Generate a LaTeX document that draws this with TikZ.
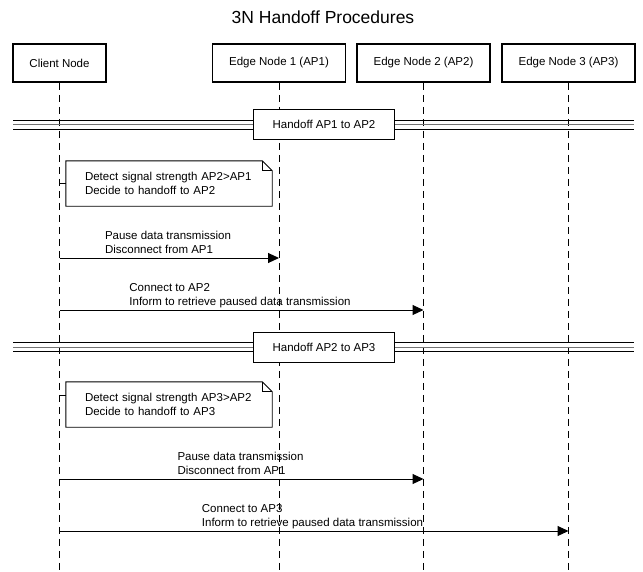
\documentclass[tikz,border=0pt]{standalone}
\usepackage{fontspec}
\setmainfont{Liberation Sans}
\usetikzlibrary{arrows.meta}
\begin{document}
\begin{tikzpicture}[x=1pt,y=-1pt,
  lbl/.style={font=\fontsize{11.5}{13.5}\selectfont},
  actor/.style={draw, line width=1.6pt, minimum height=38pt, inner xsep=16.5pt, lbl},
  life/.style={line width=0.9pt, dash pattern=on 7pt off 5pt},
  msg/.style={line width=1pt, -{Triangle[length=11pt,width=10pt]}},
  msgtext/.style={lbl, align=left, anchor=south, inner sep=0pt, text depth=0pt},
  divline/.style={line width=1pt},
  divmid/.style={line width=1pt, black!55},
  divbox/.style={draw, fill=white, line width=0.9pt, minimum height=30pt, inner xsep=19.5pt, lbl},
  notetext/.style={lbl, minimum width=206pt, minimum height=45pt, text width=168pt,
                   inner xsep=19pt, inner ysep=0pt, align=left},
  noteframe/.style={line width=0.9pt},
]
\useasboundingbox (0,0) rectangle (643,571);

% title
\node[font=\fontsize{17.5}{20}\selectfont] (title) at (323,17) {3N Handoff Procedures};

% participants
\node[actor] (cl)  at (59.5,63)  {Client Node};
\node[actor] (ap1) at (279,63)   {Edge Node 1 (AP1)};
\node[actor] (ap2) at (423.5,63) {Edge Node 2 (AP2)};
\node[actor] (ap3) at (568.5,63) {Edge Node 3 (AP3)};

% lifelines
\coordinate (bottom) at (0,571);
\foreach \p in {cl,ap1,ap2,ap3}
  \draw[life] (\p.south) -- (\p.south |- bottom);

% divider 1
\coordinate (dl1) at (13,124.5);
\coordinate (dr1) at (634,124.5);
\draw[divline] ([yshift=4.5pt]dl1) -- ([yshift=4.5pt]dr1);
\draw[divmid]  (dl1) -- (dr1);
\draw[divline] ([yshift=-4.5pt]dl1) -- ([yshift=-4.5pt]dr1);
\node[divbox] (dv1) at (324,124.5) {Handoff AP1 to AP2};

% note 1
\node[notetext] (n1) at (169,183.5) {Detect signal strength AP2>AP1\\Decide to handoff to AP2};
\draw[noteframe] (n1.north west) -- ([xshift=-10pt]n1.north east) -- ([yshift=-10pt]n1.north east)
  -- (n1.south east) -- (n1.south west) -- cycle;
\draw[noteframe] ([xshift=-10pt]n1.north east) -- ([xshift=-10pt,yshift=-10pt]n1.north east)
  -- ([yshift=-10pt]n1.north east);
\coordinate (t1) at (0,183);
\draw[noteframe] (cl.south |- t1) -- (n1.west |- t1);

% messages, first handoff
\coordinate (m1) at (0,258);
\draw[msg] (cl.south |- m1) -- (ap1.south |- m1);
\node[msgtext] (l1) at (168,253.5) {Pause data transmission\\Disconnect from AP1};

\coordinate (m2) at (0,310);
\draw[msg] (cl.south |- m2) -- (ap2.south |- m2);
\node[msgtext] (l2) at (240,305.5) {Connect to AP2\\Inform to retrieve paused data transmission};

% divider 2
\coordinate (dl2) at (13,347);
\coordinate (dr2) at (634,347);
\draw[divline] ([yshift=4.5pt]dl2) -- ([yshift=4.5pt]dr2);
\draw[divmid]  (dl2) -- (dr2);
\draw[divline] ([yshift=-4.5pt]dl2) -- ([yshift=-4.5pt]dr2);
\node[divbox] (dv2) at (324,347) {Handoff AP2 to AP3};

% note 2
\node[notetext] (n2) at (169,404.5) {Detect signal strength AP3>AP2\\Decide to handoff to AP3};
\draw[noteframe] (n2.north west) -- ([xshift=-10pt]n2.north east) -- ([yshift=-10pt]n2.north east)
  -- (n2.south east) -- (n2.south west) -- cycle;
\draw[noteframe] ([xshift=-10pt]n2.north east) -- ([xshift=-10pt,yshift=-10pt]n2.north east)
  -- ([yshift=-10pt]n2.north east);
\coordinate (t2) at (0,395);
\draw[noteframe] (cl.south |- t2) -- (n2.west |- t2);

% messages, second handoff
\coordinate (m3) at (0,479);
\draw[msg] (cl.south |- m3) -- (ap2.south |- m3);
\node[msgtext] (l3) at (240.5,474.5) {Pause data transmission\\Disconnect from AP1};

\coordinate (m4) at (0,531);
\draw[msg] (cl.south |- m4) -- (ap3.south |- m4);
\node[msgtext] (l4) at (312.5,526.5) {Connect to AP3\\Inform to retrieve paused data transmission};
\end{tikzpicture}
\end{document}
